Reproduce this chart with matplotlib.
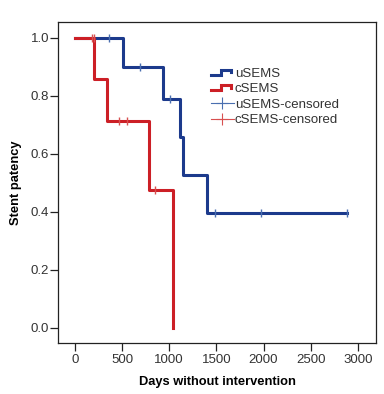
import matplotlib
matplotlib.use("Agg")
import matplotlib.pyplot as plt
from matplotlib.legend_handler import HandlerBase
from matplotlib.lines import Line2D

plt.rcParams['font.family'] = ['Liberation Sans', 'DejaVu Sans']

# Kaplan-Meier step data (days, survival)
u_time = [0, 505, 935, 1112, 1147, 1401, 2887]
u_surv = [1.0, 0.9, 0.7875, 0.656, 0.525, 0.394, 0.394]
u_cens_t = [364, 688, 1013, 1482, 1969, 2887]
u_cens_s = [1.0, 0.9, 0.7875, 0.394, 0.394, 0.394]

c_time = [0, 203, 335, 784, 1041]
c_surv = [1.0, 0.857, 0.714, 0.476, 0.0]
c_cens_t = [176, 200, 466, 547, 854]
c_cens_s = [1.0, 1.0, 0.714, 0.714, 0.476]

blue = '#1c3a8c'
red = '#cc1f26'
blue_c = '#4a6fb0'
red_c = '#d85050'

x_ticks = [0, 500, 1000, 1500, 2000, 2500, 3000]
y_ticks = [0.0, 0.2, 0.4, 0.6, 0.8, 1.0]


class StepHandler(HandlerBase):
    def __init__(self, color):
        super().__init__()
        self.color = color

    def create_artists(self, legend, orig_handle, xdescent, ydescent,
                       width, height, fontsize, trans):
        x0 = -xdescent
        w = width
        h = height
        xs = [x0, x0 + w * 0.45, x0 + w * 0.45, x0 + w * 0.9, x0 + w * 0.9]
        ys = [h * 0.2, h * 0.2, h * 0.75, h * 0.75, h * 0.45]
        ln = Line2D(xs, ys, color=self.color, lw=2.2, transform=trans,
                    solid_joinstyle='miter')
        return [ln]


fig = plt.figure(figsize=(3.84, 3.94), dpi=100)
ax = fig.add_axes([0.151, 0.1294, 0.828, 0.815])

ax.step(u_time, u_surv, where='post', color=blue, lw=2.2)
ax.step(c_time, c_surv, where='post', color=red, lw=2.2)
ax.plot(u_cens_t, u_cens_s, linestyle='none', marker='|', color=blue_c,
        markersize=6, markeredgewidth=1.0)
ax.plot(c_cens_t, c_cens_s, linestyle='none', marker='|', color=red_c,
        markersize=6, markeredgewidth=1.0)

ax.set_xlim(-180, 3192)
ax.set_ylim(-0.053, 1.054)
ax.set_xticks(x_ticks)
ax.set_xticklabels([str(v) for v in x_ticks])
ax.set_yticks(y_ticks)
ax.set_yticklabels([f"{v:.1f}" for v in y_ticks])
ax.tick_params(direction='out', length=6, width=0.9, labelsize=9.5,
               colors='#222222', labelcolor='#333333')
ax.tick_params(axis='y', pad=0.5)
ax.tick_params(axis='x', pad=2)
for s in ax.spines.values():
    s.set_linewidth(0.9)
    s.set_color('#222222')

ax.set_xlabel('Days without intervention', fontsize=9.3, fontweight='bold',
              labelpad=7)
ax.set_ylabel('Stent patency', fontsize=9.3, fontweight='bold', labelpad=6)

h1 = Line2D([], [], color=blue)
h2 = Line2D([], [], color=red)
h3 = Line2D([], [], color=blue_c, marker='+', lw=0.8, markersize=9,
            markeredgewidth=0.8)
h4 = Line2D([], [], color=red_c, marker='+', lw=0.8, markersize=9,
            markeredgewidth=0.8)
leg = ax.legend([h1, h2, h3, h4],
                ['uSEMS', 'cSEMS', 'uSEMS-censored', 'cSEMS-censored'],
                handler_map={h1: StepHandler(blue), h2: StepHandler(red)},
                loc='upper left', bbox_to_anchor=(0.465, 0.875),
                frameon=False, fontsize=9.5, handlelength=1.7,
                handletextpad=0.1, labelspacing=0.25, borderaxespad=0)
for t in leg.get_texts():
    t.set_color('#333333')

fig.savefig('out.png', dpi=100)
